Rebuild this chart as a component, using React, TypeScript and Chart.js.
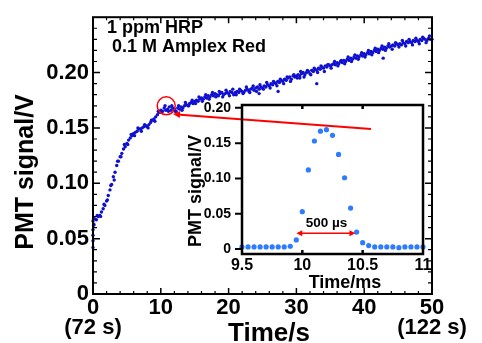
import React, { useEffect, useRef } from 'react';
import { Chart, registerables } from 'chart.js';

Chart.register(...registerables);

const FONT = '"Liberation Sans", Arial, Helvetica, sans-serif';
const W = 482;
const H = 343;

// ---------- main trace: PMT signal (V) sampled every 0.25 s ----------
const mainValues = [
  0.066, 0.068, 0.067, 0.070, 0.071, 0.074, 0.077, 0.080, 0.084, 0.089,
  0.094, 0.099, 0.106, 0.110, 0.116, 0.120, 0.124, 0.127, 0.131, 0.133,
  0.136, 0.139, 0.141, 0.143, 0.145, 0.146, 0.147, 0.149, 0.149, 0.150,
  0.151, 0.152, 0.151, 0.153, 0.155, 0.157, 0.158, 0.160, 0.162, 0.164,
  0.166, 0.165, 0.168, 0.166, 0.167, 0.169, 0.166, 0.168, 0.167, 0.165,
  0.168, 0.167, 0.169, 0.168, 0.170, 0.171, 0.170, 0.172, 0.173, 0.172,
  0.174, 0.175, 0.174, 0.176, 0.177, 0.176, 0.178, 0.177, 0.179, 0.178,
  0.180, 0.179, 0.181, 0.180, 0.179, 0.181, 0.182, 0.180, 0.181, 0.182,
  0.181, 0.183, 0.182, 0.180, 0.182, 0.183, 0.182, 0.184, 0.183, 0.182,
  0.184, 0.185, 0.183, 0.185, 0.186, 0.184, 0.186, 0.187, 0.185, 0.187,
  0.186, 0.188, 0.187, 0.189, 0.188, 0.190, 0.189, 0.191, 0.190, 0.192,
  0.191, 0.193, 0.192, 0.194, 0.193, 0.195, 0.196, 0.194, 0.197, 0.196,
  0.197, 0.198, 0.197, 0.199, 0.200, 0.198, 0.200, 0.201, 0.199, 0.202,
  0.201, 0.203, 0.202, 0.204, 0.203, 0.205, 0.204, 0.206, 0.205, 0.207,
  0.206, 0.207, 0.208, 0.207, 0.209, 0.208, 0.210, 0.209, 0.211, 0.210,
  0.212, 0.211, 0.213, 0.212, 0.214, 0.213, 0.215, 0.214, 0.216, 0.215,
  0.217, 0.216, 0.218, 0.217, 0.219, 0.218, 0.220, 0.219, 0.221, 0.220,
  0.222, 0.221, 0.223, 0.222, 0.224, 0.223, 0.224, 0.225, 0.224, 0.226,
  0.225, 0.226, 0.225, 0.227, 0.226, 0.228, 0.227, 0.228, 0.227, 0.229,
  0.228, 0.229, 0.228, 0.230, 0.229, 0.231, 0.230, 0.229, 0.231, 0.230,
  0.230,
];
const mainTimes = mainValues.map((_, i) => i * 0.25);

// interleaved samples (noise band), every 0.5 s starting at 0.125 s
const sideValues = [
  0.063, 0.071, 0.070, 0.081, 0.085, 0.098, 0.103, 0.120, 0.124, 0.135,
  0.135, 0.144, 0.143, 0.150, 0.147, 0.153, 0.150, 0.157, 0.156, 0.165,
  0.164, 0.170, 0.165, 0.170, 0.165, 0.170, 0.166, 0.173, 0.170, 0.175,
  0.172, 0.178, 0.174, 0.180, 0.176, 0.182, 0.178, 0.183, 0.178, 0.184,
  0.179, 0.185, 0.180, 0.185, 0.181, 0.187, 0.182, 0.188, 0.183, 0.189,
  0.185, 0.191, 0.186, 0.192, 0.188, 0.194, 0.190, 0.196, 0.192, 0.198,
  0.195, 0.201, 0.196, 0.202, 0.198, 0.204, 0.200, 0.206, 0.201, 0.207,
  0.204, 0.210, 0.206, 0.211, 0.208, 0.214, 0.210, 0.216, 0.212, 0.218,
  0.214, 0.220, 0.216, 0.222, 0.218, 0.224, 0.220, 0.226, 0.221, 0.227,
  0.223, 0.229, 0.224, 0.230, 0.225, 0.231, 0.226, 0.232, 0.227, 0.233,
];
const sideTimes = sideValues.map((_, i) => 0.125 + i * 0.5);

// scatter at the very start and a few stray samples
const startTimes = [0, 0, 0, 0, 0.1];
const startValues = [0.042, 0.048, 0.053, 0.058, 0.062];
const strayTimes = [24.5, 27.3, 30.5, 33.0, 42.8];
const strayValues = [0.181, 0.183, 0.195, 0.190, 0.213];

// ---------- inset: single pulse, PMT signal (V) vs time (ms) ----------
const insetTimes = [
  9.5, 9.55, 9.6, 9.65, 9.7, 9.75, 9.8, 9.85, 9.9, 9.95,
  10.0, 10.05, 10.1, 10.15, 10.2, 10.25, 10.3, 10.35, 10.4, 10.45,
  10.5, 10.55, 10.6, 10.65, 10.7, 10.75, 10.8, 10.85, 10.9, 10.95, 11.0,
];
const insetValues = [
  0.003, 0.003, 0.003, 0.003, 0.003, 0.003, 0.003, 0.003, 0.004, 0.013,
  0.053, 0.112, 0.153, 0.167, 0.169, 0.161, 0.134, 0.101, 0.058, 0.024,
  0.009, 0.005, 0.003, 0.003, 0.003, 0.003, 0.002, 0.003, 0.003, 0.003, 0.003,
];

// ---------- ticks & labels ----------
const mainXTicks = [0, 10, 20, 30, 40, 50];
const mainXTickLabels: (string | string[])[] = [['0', '(72 s)'], '10', '20', '30', '40', ['50', '(122 s)']];
const mainXMinor = [2, 4, 6, 8, 12, 14, 16, 18, 22, 24, 26, 28, 32, 34, 36, 38, 42, 44, 46, 48];
const mainYTicks = [0, 0.05, 0.1, 0.15, 0.2];
const mainYTickLabels = ['0', '0.05', '0.10', '0.15', '0.20'];
const mainYMinor = [
  0.01, 0.02, 0.03, 0.04, 0.06, 0.07, 0.08, 0.09, 0.11, 0.12, 0.13, 0.14,
  0.16, 0.17, 0.18, 0.19, 0.21, 0.22, 0.23, 0.24,
];
const insetXTicks = [9.5, 10, 10.5, 11];
const insetXTickLabels = ['9.5', '10', '10.5', '11'];
const insetYTicks = [0, 0.05, 0.1, 0.15, 0.2];
const insetYTickLabels = ['0', '0.05', '0.10', '0.15', '0.20'];

const noteLines = ['1 ppm HRP', '0.1 M Amplex Red'];
const mainYTitle = 'PMT signal/V';
const mainXTitle = 'Time/s';
const insetYTitle = 'PMT signal/V';
const insetXTitle = 'Time/ms';
const pulseWidthLabel = '500 \u00b5s';

// annotation anchors (data units)
const circleAt = { x: 10.8, y: 0.17 };
const pointerFrom = { x: 11.8, y: 0.1625 };
const pointerTo = { x: 41, y: 0.149 };
const widthArrow = { x0: 9.95, x1: 10.44, y: 0.0225 };
const widthLabelAt = { x: 10.2, y: 0.031 };

const MAIN_BLUE = '#1010d0';
const INSET_BLUE = '#2d7bff';
const RED = '#ff0000';

type FrameCfg = {
  frame: number;
  xMajor: number[]; xMinor: number[]; yMajor: number[]; yMinor: number[];
  xMajorLen: number; xMinorLen: number; yMajorLen: number; yMinorLen: number;
  xMajorWidth: number; yMajorWidth: number; minorWidth: number;
  xSides: ('top' | 'bottom')[]; ySides: ('left' | 'right')[];
};

function makeFramePlugin(id: string, cfg: FrameCfg) {
  return {
    id,
    afterDatasetsDraw(chart: any) {
      const { ctx, chartArea: a } = chart;
      const xs = chart.scales.x;
      const ys = chart.scales.y;
      ctx.save();
      ctx.strokeStyle = '#000';
      const xGroups: [number[], number, number][] = [
        [cfg.xMinor, cfg.xMinorLen, cfg.minorWidth],
        [cfg.xMajor, cfg.xMajorLen, cfg.xMajorWidth],
      ];
      for (const [vals, len, lw] of xGroups) {
        if (!vals.length) continue;
        ctx.lineWidth = lw;
        ctx.beginPath();
        for (const v of vals) {
          const p = xs.getPixelForValue(v);
          for (const side of cfg.xSides) {
            const y0 = side === 'bottom' ? a.bottom : a.top;
            const dir = side === 'bottom' ? -1 : 1;
            ctx.moveTo(p, y0);
            ctx.lineTo(p, y0 + dir * len);
          }
        }
        ctx.stroke();
      }
      const yGroups: [number[], number, number][] = [
        [cfg.yMinor, cfg.yMinorLen, cfg.minorWidth],
        [cfg.yMajor, cfg.yMajorLen, cfg.yMajorWidth],
      ];
      for (const [vals, len, lw] of yGroups) {
        if (!vals.length) continue;
        ctx.lineWidth = lw;
        ctx.beginPath();
        for (const v of vals) {
          const p = ys.getPixelForValue(v);
          for (const side of cfg.ySides) {
            const x0 = side === 'left' ? a.left : a.right;
            const dir = side === 'left' ? 1 : -1;
            ctx.moveTo(x0, p);
            ctx.lineTo(x0 + dir * len, p);
          }
        }
        ctx.stroke();
      }
      ctx.lineWidth = cfg.frame;
      ctx.strokeRect(a.left, a.top, a.right - a.left, a.bottom - a.top);
      ctx.restore();
    },
  };
}

function arrowHead(ctx: CanvasRenderingContext2D, tipX: number, tipY: number, fromX: number, fromY: number, len: number, half: number) {
  const ang = Math.atan2(tipY - fromY, tipX - fromX);
  ctx.beginPath();
  ctx.moveTo(tipX, tipY);
  ctx.lineTo(tipX - len * Math.cos(ang) + half * Math.sin(ang), tipY - len * Math.sin(ang) - half * Math.cos(ang));
  ctx.lineTo(tipX - len * Math.cos(ang) - half * Math.sin(ang), tipY - len * Math.sin(ang) + half * Math.cos(ang));
  ctx.closePath();
  ctx.fill();
}

const mainDecor = {
  id: 'mainDecor',
  afterDraw(chart: any) {
    const { ctx } = chart;
    const xs = chart.scales.x;
    const ys = chart.scales.y;
    ctx.save();
    ctx.fillStyle = '#000';
    ctx.font = `bold 18px ${FONT}`;
    ctx.textAlign = 'left';
    ctx.textBaseline = 'alphabetic';
    ctx.fillText(noteLines[0], 107, 33);
    ctx.fillText(noteLines[1], 112, 52);
    ctx.save();
    ctx.translate(33, 172);
    ctx.rotate(-Math.PI / 2);
    ctx.font = `bold 25px ${FONT}`;
    ctx.textAlign = 'center';
    ctx.fillText(mainYTitle, 0, 0);
    ctx.restore();
    ctx.font = `bold 26px ${FONT}`;
    ctx.textAlign = 'center';
    ctx.fillText(mainXTitle, 269, 341);
    ctx.strokeStyle = RED;
    ctx.fillStyle = RED;
    ctx.lineWidth = 1.5;
    ctx.beginPath();
    ctx.arc(xs.getPixelForValue(circleAt.x), ys.getPixelForValue(circleAt.y), 9, 0, Math.PI * 2);
    ctx.stroke();
    const sx = xs.getPixelForValue(pointerFrom.x);
    const sy = ys.getPixelForValue(pointerFrom.y);
    const ex = xs.getPixelForValue(pointerTo.x);
    const ey = ys.getPixelForValue(pointerTo.y);
    ctx.lineWidth = 2;
    ctx.beginPath();
    ctx.moveTo(sx + 4, sy + 0.3);
    ctx.lineTo(ex, ey);
    ctx.stroke();
    arrowHead(ctx, sx, sy, ex, ey, 7, 3.5);
    ctx.restore();
  },
};

const insetDecor = {
  id: 'insetDecor',
  afterDraw(chart: any) {
    const { ctx } = chart;
    const xs = chart.scales.x;
    const ys = chart.scales.y;
    ctx.save();
    ctx.fillStyle = '#000';
    ctx.save();
    ctx.translate(201, 191);
    ctx.rotate(-Math.PI / 2);
    ctx.font = `bold 18px ${FONT}`;
    ctx.textAlign = 'center';
    ctx.textBaseline = 'alphabetic';
    ctx.fillText(insetYTitle, 0, 0);
    ctx.restore();
    ctx.font = `bold 18px ${FONT}`;
    ctx.textAlign = 'center';
    ctx.textBaseline = 'alphabetic';
    ctx.fillText(insetXTitle, 345, 288);
    ctx.font = `bold 13.5px ${FONT}`;
    ctx.fillText(pulseWidthLabel, xs.getPixelForValue(widthLabelAt.x), ys.getPixelForValue(widthLabelAt.y));
    const ax0 = xs.getPixelForValue(widthArrow.x0);
    const ax1 = xs.getPixelForValue(widthArrow.x1);
    const ay = ys.getPixelForValue(widthArrow.y);
    ctx.strokeStyle = RED;
    ctx.fillStyle = RED;
    ctx.lineWidth = 1.5;
    ctx.beginPath();
    ctx.moveTo(ax0 + 3, ay);
    ctx.lineTo(ax1 - 3, ay);
    ctx.stroke();
    arrowHead(ctx, ax0, ay, ax1, ay, 6, 3);
    arrowHead(ctx, ax1, ay, ax0, ay, 6, 3);
    ctx.restore();
  },
};

const pts = (xs: number[], ys: number[]) => xs.map((x, i) => ({ x, y: ys[i] }));

export default function App() {
  const mainRef = useRef<HTMLCanvasElement | null>(null);
  const insetRef = useRef<HTMLCanvasElement | null>(null);

  useEffect(() => {
    if (!mainRef.current || !insetRef.current) return;
    const mainDs = (data: { x: number; y: number }[]) => ({
      data,
      backgroundColor: MAIN_BLUE,
      borderWidth: 0,
      pointRadius: 1.7,
      clip: 6,
    });
    const main = new Chart(mainRef.current, {
      type: 'scatter',
      data: {
        datasets: [
          mainDs(pts(mainTimes, mainValues)),
          mainDs(pts(sideTimes, sideValues)),
          mainDs(pts(startTimes, startValues)),
          mainDs(pts(strayTimes, strayValues)),
        ],
      },
      options: {
        responsive: false,
        animation: false,
        events: [],
        layout: { padding: { left: 0, right: 50, top: 14, bottom: 0 } },
        plugins: { legend: { display: false }, tooltip: { enabled: false } },
        scales: {
          x: {
            type: 'linear',
            min: 0,
            max: 50,
            grid: { display: false, drawTicks: false },
            border: { display: false },
            afterBuildTicks: (s: any) => { s.ticks = mainXTicks.map((v) => ({ value: v })); },
            afterFit: (s: any) => { s.height = 49; },
            ticks: {
              autoSkip: false,
              maxRotation: 0,
              padding: 4,
              color: '#000',
              font: { family: FONT, size: 22, weight: 'bold', lineHeight: 0.9 },
              callback: (_v: any, i: number) => mainXTickLabels[i],
            },
          },
          y: {
            type: 'linear',
            min: 0,
            max: 0.25,
            grid: { display: false, drawTicks: false },
            border: { display: false },
            afterBuildTicks: (s: any) => { s.ticks = mainYTicks.map((v) => ({ value: v })); },
            afterFit: (s: any) => { s.width = 93; },
            ticks: {
              autoSkip: false,
              padding: 4,
              color: '#000',
              font: { family: FONT, size: 22, weight: 'bold' },
              callback: (_v: any, i: number) => mainYTickLabels[i],
            },
          },
        },
      } as any,
      plugins: [
        makeFramePlugin('mainFrame', {
          frame: 2,
          xMajor: mainXTicks, xMinor: mainXMinor, yMajor: mainYTicks, yMinor: mainYMinor,
          xMajorLen: 6, xMinorLen: 3, yMajorLen: 7, yMinorLen: 4,
          xMajorWidth: 1.5, yMajorWidth: 1.5, minorWidth: 1.2,
          xSides: ['bottom', 'top'], ySides: ['left', 'right'],
        }),
        mainDecor,
      ],
    });

    const inset = new Chart(insetRef.current, {
      type: 'scatter',
      data: {
        datasets: [
          {
            data: pts(insetTimes, insetValues),
            backgroundColor: INSET_BLUE,
            borderWidth: 0,
            pointRadius: 2.6,
            clip: 6,
          },
        ],
      },
      options: {
        responsive: false,
        animation: false,
        events: [],
        layout: { padding: { left: 0, right: 59, top: 105, bottom: 0 } },
        plugins: { legend: { display: false }, tooltip: { enabled: false } },
        scales: {
          x: {
            type: 'linear',
            min: 9.5,
            max: 11,
            grid: { display: false, drawTicks: false },
            border: { display: false },
            afterBuildTicks: (s: any) => { s.ticks = insetXTicks.map((v) => ({ value: v })); },
            afterFit: (s: any) => { s.height = 89; },
            ticks: {
              autoSkip: false,
              maxRotation: 0,
              padding: 2,
              color: '#000',
              font: { family: FONT, size: 16, weight: 'bold' },
              callback: (_v: any, i: number) => insetXTickLabels[i],
            },
          },
          y: {
            type: 'linear',
            min: -0.007,
            max: 0.204,
            grid: { display: false, drawTicks: false },
            border: { display: false },
            afterBuildTicks: (s: any) => { s.ticks = insetYTicks.map((v) => ({ value: v })); },
            afterFit: (s: any) => { s.width = 242; },
            ticks: {
              autoSkip: false,
              padding: 11,
              color: '#000',
              font: { family: FONT, size: 14, weight: 'bold' },
              callback: (_v: any, i: number) => insetYTickLabels[i],
            },
          },
        },
      } as any,
      plugins: [
        makeFramePlugin('insetFrame', {
          frame: 2.5,
          xMajor: [10, 10.5], xMinor: [], yMajor: insetYTicks, yMinor: [],
          xMajorLen: 4, xMinorLen: 0, yMajorLen: -7, yMinorLen: 0,
          xMajorWidth: 2.5, yMajorWidth: 2, minorWidth: 1,
          xSides: ['bottom', 'top'], ySides: ['left'],
        }),
        insetDecor,
      ],
    });

    return () => {
      main.destroy();
      inset.destroy();
    };
  }, []);

  return (
    <div style={{ position: 'fixed', left: 0, top: 0, width: W, height: H, background: '#fff' }}>
      <canvas ref={mainRef} width={W} height={H} style={{ position: 'absolute', left: 0, top: 0, width: W, height: H }} />
      <canvas ref={insetRef} width={W} height={H} style={{ position: 'absolute', left: 0, top: 0, width: W, height: H }} />
    </div>
  );
}
